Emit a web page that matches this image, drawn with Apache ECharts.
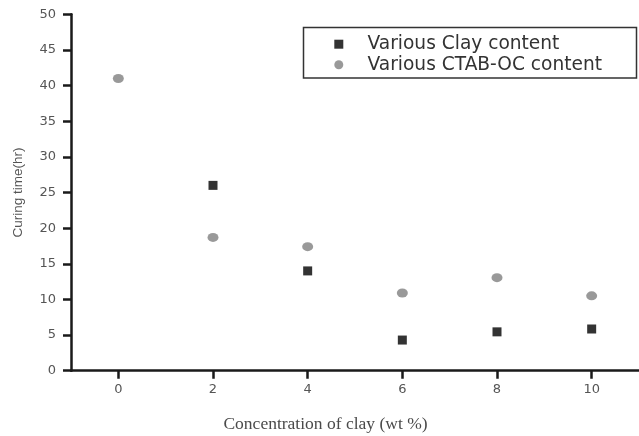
<!DOCTYPE html>
<html>
<head>
<meta charset="utf-8">
<style>html,body{margin:0;padding:0;background:#fff}#c{width:639px;height:436px}</style>
<script src="https://cdn.jsdelivr.net/npm/echarts@6/dist/echarts.min.js"></script>
</head>
<body>
<div id="c"></div>
<script>
const xValues = [0, 2, 4, 6, 8, 10];
const clayContent = [null, 26.0, 14.0, 4.3, 5.45, 5.85];
const ctabContent = [41.0, 18.7, 17.4, 10.9, 13.05, 10.5];
const xTicks = [0, 2, 4, 6, 8, 10];
const seriesNames = ['Various Clay content', 'Various CTAB-OC content'];
const xTitle = 'Concentration of clay (wt %)';
const yTitle = 'Curing time(hr)';

const toPairs = arr => xValues.map((x, i) => arr[i] == null ? null : [x, arr[i]]).filter(d => d);

const chart = echarts.init(document.getElementById('c'), null, {renderer: 'canvas'});
chart.setOption({
  animation: false,
  backgroundColor: '#fff',
  grid: {left: 71, right: 0, top: 14.3, bottom: 65.3, containLabel: false},
  xAxis: {
    type: 'value', min: -1, max: 11,
    axisLine: {show: true, onZero: false, lineStyle: {color: '#1a1a1a', width: 2.5}},
    axisTick: {show: true, length: 8, inside: false, customValues: xTicks, lineStyle: {color: '#1a1a1a', width: 2.5}},
    axisLabel: {show: true, customValues: xTicks, margin: 12, color: '#555', fontFamily: 'DejaVu Sans', fontSize: 13},
    splitLine: {show: false}
  },
  yAxis: {
    type: 'value', min: 0, max: 50, interval: 5,
    name: yTitle, nameLocation: 'middle', nameGap: 46, nameRotate: 90,
    nameTextStyle: {color: '#555', fontFamily: 'Liberation Sans', fontSize: 13.5},
    axisLine: {show: true, onZero: false, lineStyle: {color: '#1a1a1a', width: 2.5}},
    axisTick: {show: true, length: 8, inside: false, lineStyle: {color: '#1a1a1a', width: 2.5}},
    axisLabel: {margin: 15, color: '#555', fontFamily: 'DejaVu Sans', fontSize: 13},
    splitLine: {show: false}
  },
  legend: {
    orient: 'vertical', left: 334.3, top: 34.2, padding: 0,
    itemWidth: 47.4, itemHeight: 9, itemGap: 0.6,
    symbolKeepAspect: true,
    textStyle: {color: '#333', fontFamily: 'DejaVu Sans', fontSize: 18.6, lineHeight: 20},
    data: [
      {name: seriesNames[0], icon: 'path://M0,0L10,0L10,10L0,10Z'},
      {name: seriesNames[1], icon: 'circle'}
    ]
  },
  graphic: [
    {type: 'rect', shape: {x: 303.5, y: 27.5, width: 333, height: 50.5}, style: {fill: 'none', stroke: '#333', lineWidth: 1.5}, silent: true},
    {type: 'text', x: 325.5, y: 424.5, style: {text: xTitle, fill: '#4a4a4a', font: '17.5px "Liberation Serif"', textAlign: 'center', textVerticalAlign: 'middle'}, silent: true}
  ],
  series: [
    {
      name: seriesNames[0], type: 'scatter', symbol: 'rect', symbolSize: 9,
      itemStyle: {color: '#000'}, data: toPairs(clayContent), z: 2
    },
    {
      name: seriesNames[1], type: 'scatter', symbol: 'circle', symbolSize: [11, 9],
      itemStyle: {color: '#808080'}, data: toPairs(ctabContent), z: 3
    }
  ]
});
</script>
</body>
</html>
